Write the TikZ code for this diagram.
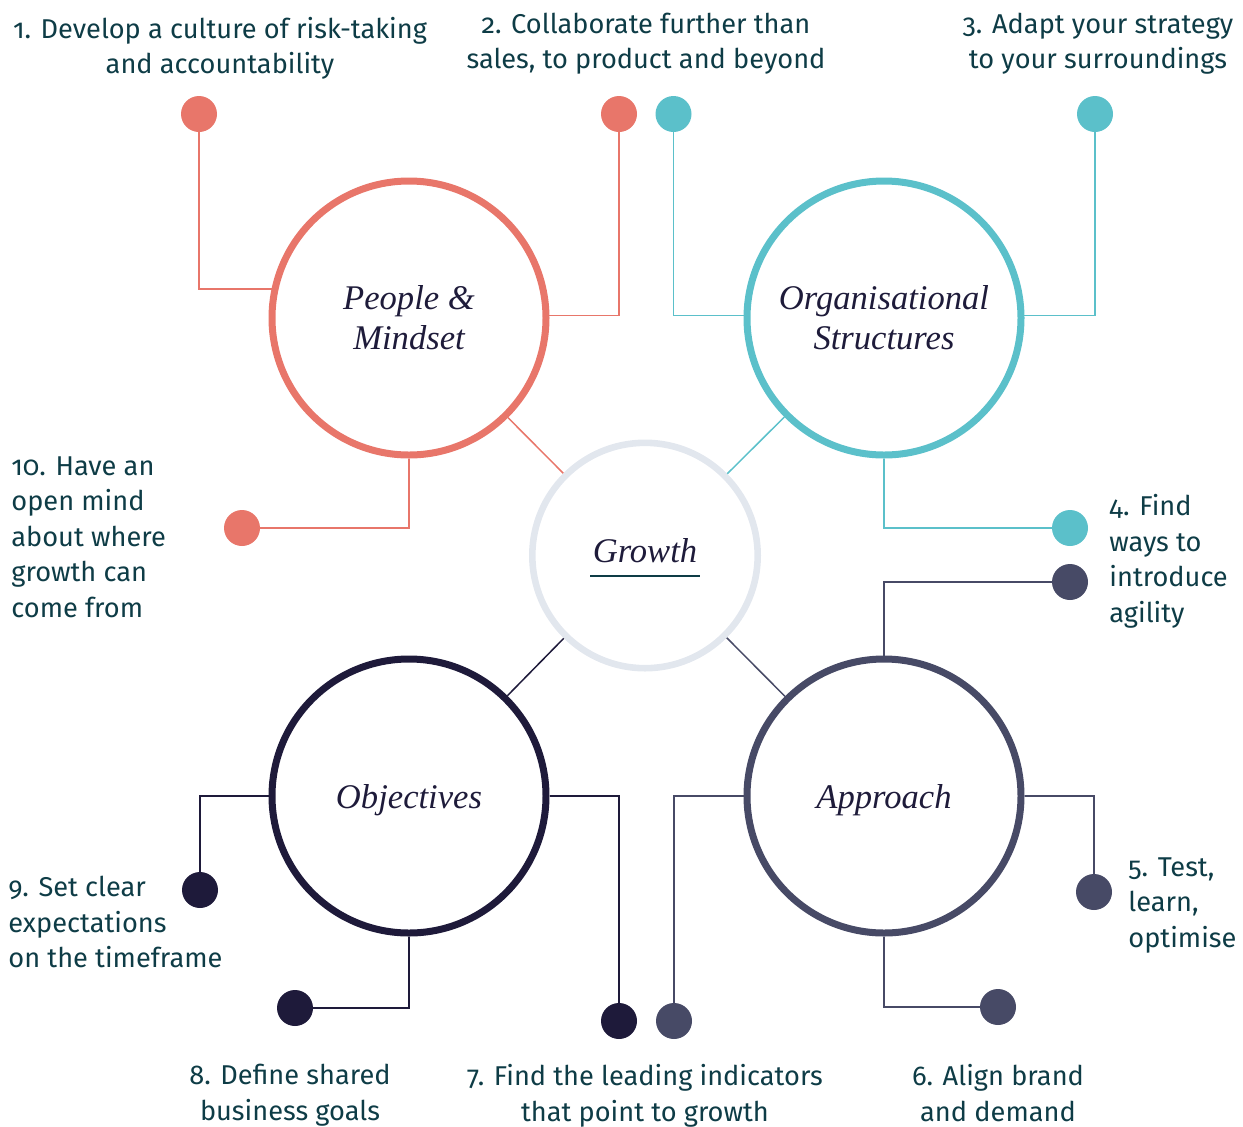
\documentclass[tikz,border=0pt]{standalone}
\usepackage{fontspec}
\setmainfont{Fira Sans}[Numbers=OldStyle]
\newfontfamily\labelserif{Liberation Serif}
\usetikzlibrary{calc}
\definecolor{cCoral}{HTML}{E8766A}
\definecolor{cTeal}{HTML}{5BC0CA}
\definecolor{cNavy}{HTML}{1E1A3A}
\definecolor{cSlate}{HTML}{474A66}
\definecolor{cRing}{HTML}{E2E7EE}
\definecolor{cText}{HTML}{0E3C46}
\definecolor{cLabel}{HTML}{1E1B3A}
\newcommand\hubfont{\labelserif\itshape\fontsize{17.3}{20}\selectfont}
\newcommand\lblfont{\fontsize{13.6}{17.75}\selectfont}
\tikzset{
  hub/.style={circle, draw=#1, line width=3.5pt, minimum size=137pt, inner sep=0pt,
    font=\hubfont, text=cLabel, align=center},
  ring/.style={circle, draw=cRing, line width=3.3pt, minimum size=112.7pt, inner sep=0pt,
    font=\hubfont, text=cLabel},
  dotn/.style={circle, fill=#1, minimum size=18pt, inner sep=0pt},
  link/.style={draw=#1, line width=0.75pt},
  lbl/.style={font=\lblfont, text=cText, inner sep=0pt},
}
\begin{document}
\begin{tikzpicture}[x=0.5pt,y=-0.5pt]
\useasboundingbox (0,0) rectangle (1243,1126);

% hubs
\node[hub=cCoral] (pm) at (409,318) {People \&\\Mindset};
\node[hub=cTeal]  (os) at (884,318) {Organisational\\Structures};
\node[hub=cNavy, text height=12.5pt, text depth=0pt] (ob) at (409,796) {Objectives};
\node[hub=cSlate, text height=12.5pt, text depth=0pt] (ap) at (884,796) {Approach};
\node[ring, text height=11.9pt, text depth=5.4pt] (gr) at (645,555.5) {Growth};
\draw[cText, line width=1pt] ([shift={(-55,20)}]gr.center) -- ([shift={(55,20)}]gr.center);

% dots
\node[dotn=cCoral] (d1)  at (199,114) {};
\node[dotn=cCoral] (d2)  at (619,114) {};
\node[dotn=cTeal]  (d3a) at (673.5,114) {};
\node[dotn=cTeal]  (d3)  at (1095,114) {};
\node[dotn=cTeal]  (d4)  at (1070,528) {};
\node[dotn=cSlate] (d4b) at (1070,582) {};
\node[dotn=cSlate] (d5)  at (1094,892) {};
\node[dotn=cSlate] (d6)  at (998,1007) {};
\node[dotn=cSlate] (d7b) at (674,1021) {};
\node[dotn=cNavy]  (d7a) at (619,1021) {};
\node[dotn=cNavy]  (d8)  at (295,1008) {};
\node[dotn=cNavy]  (d9)  at (200,890) {};
\node[dotn=cCoral] (d10) at (242,528) {};

% connectors to dots
\draw[link=cCoral] (d1) |- (pm.168.5);
\draw[link=cCoral] (d2) |- (pm.1);
\draw[link=cTeal]  (d3a) |- (os.179);
\draw[link=cTeal]  (d3) |- (os.1);
\draw[link=cTeal]  (os.south) |- (d4);
\draw[link=cSlate] (ap.north) |- (d4b);
\draw[link=cSlate] (ap.east) -| (d5);
\draw[link=cSlate] (ap.south) |- (d6);
\draw[link=cSlate] (ap.west) -| (d7b);
\draw[link=cNavy]  (ob.east) -| (d7a);
\draw[link=cNavy]  (ob.south) |- (d8);
\draw[link=cNavy]  (ob.west) -| (d9);
\draw[link=cCoral] (pm.south) |- (d10);

% connectors to growth
\draw[link=cCoral] (pm) -- (gr);
\draw[link=cTeal]  (os) -- (gr);
\draw[link=cNavy]  (ob) -- (gr);
\draw[link=cSlate] (ap) -- (gr);

% labels
\node[lbl, anchor=north, align=center] (t1) at (220,16.5) {1. Develop a culture of risk-taking\\and accountability};
\node[lbl, anchor=north, align=center] (t2) at (646,12.5) {2. Collaborate further than\\sales, to product and beyond};
\node[lbl, anchor=north, align=center] (t3) at (1098,12.5) {3. Adapt your strategy\\to your surroundings};
\node[lbl, anchor=north west, align=left] (t4) at (1109,494) {4. Find\\ways to\\introduce\\agility};
\node[lbl, anchor=north west, align=left] (t5) at (1128,857) {5. Test,\\learn,\\optimise};
\node[lbl, anchor=north, align=center] (t6) at (998,1064) {6. Align brand\\and demand};
\node[lbl, anchor=north, align=center] (t7) at (645,1064) {7. Find the leading indicators\\that point to growth};
\node[lbl, anchor=north, align=center] (t8) at (290,1064) {8. Define shared\\business goals};
\node[lbl, anchor=north west, align=left] (t9) at (8,876) {9. Set clear\\expectations\\on the timeframe};
\node[lbl, anchor=north west, align=left] (t10) at (11,456) {10. Have an\\open mind\\about where\\growth can\\come from};
\end{tikzpicture}
\end{document}
